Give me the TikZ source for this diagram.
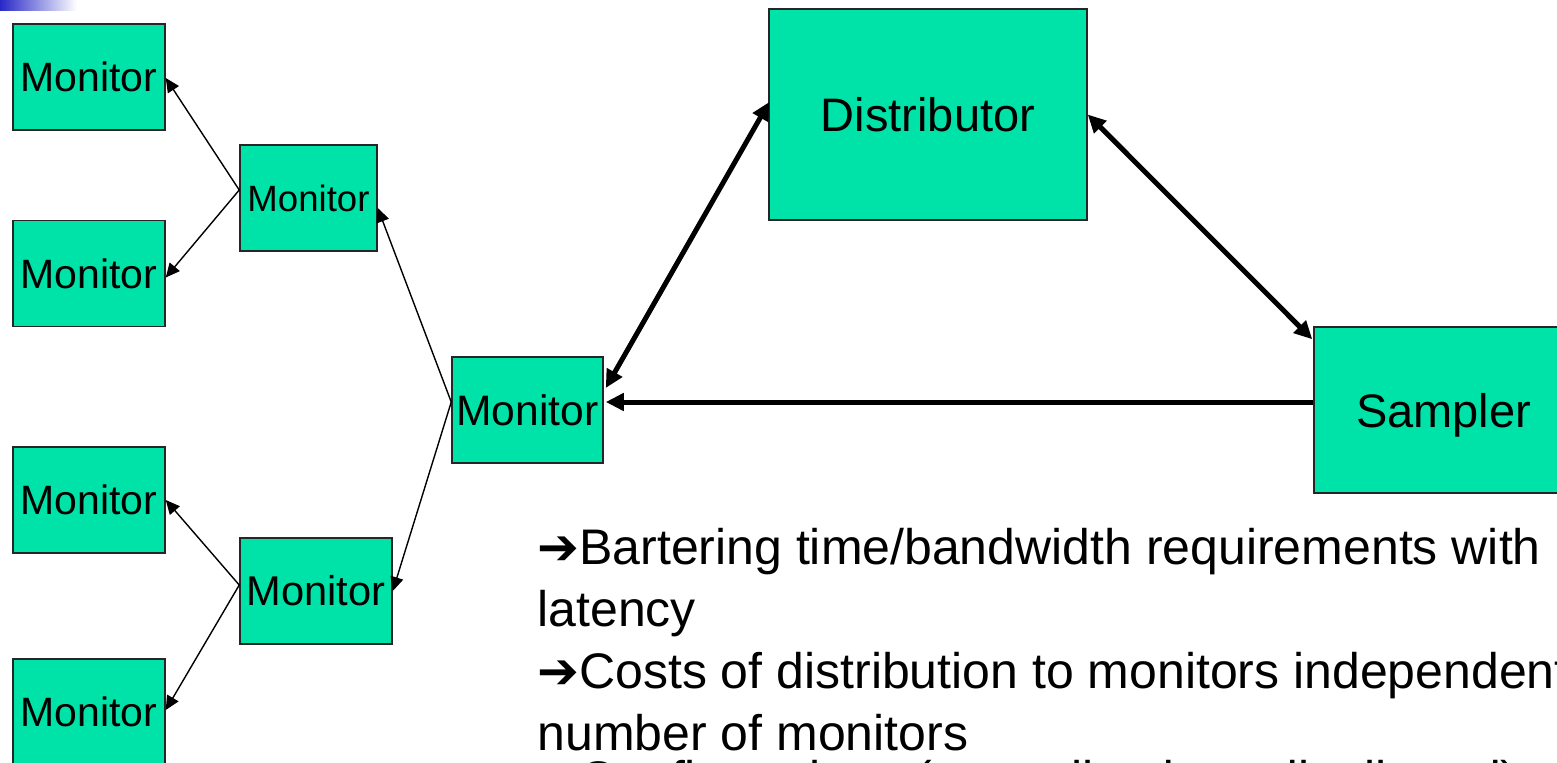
\documentclass[tikz,border=0pt]{standalone}
\usepackage{fontspec}
\setmainfont{Liberation Sans}
\newfontfamily\dejavu{DejaVu Sans}
\usetikzlibrary{arrows.meta,calc}
\definecolor{boxgreen}{RGB}{0,227,168}
\definecolor{barblue}{RGB}{40,40,200}
\begin{document}
\begin{tikzpicture}[x=0.5pt,y=-0.5pt,
  box/.style={draw=black!85, line width=0.75pt, fill=boxgreen, inner sep=0pt, font=\fontsize{20.5}{24}\selectfont},
  mon/.style={box, minimum width=76pt, minimum height=53pt},
  thinarrow/.style={line width=0.7pt, -{Triangle[length=7pt,width=6.5pt]}},
  thickarrow/.style={line width=2.5pt, {Triangle[length=9pt,width=8.5pt]}-{Triangle[length=9pt,width=8.5pt]}},
  onearrow/.style={line width=2.5pt, -{Triangle[length=9pt,width=8.5pt]}},
  txt/.style={anchor=base west, inner sep=0pt, font=\fontsize{25}{28}\selectfont}]
\useasboundingbox (0,0) rectangle (1557,762);
\clip (0,0) rectangle (1557,762);
\fill[white] (0,0) rectangle (1557,762);
\shade[left color=barblue, right color=white] (0,0) rectangle (77,10);

\node[mon] (l1) at (89,77) {Monitor};
\node[mon] (l2) at (89,273.5) {Monitor};
\node[mon] (l3) at (89,500) {Monitor};
\node[mon] (l4) at (89,712) {Monitor};
\node[box, minimum width=68.5pt, minimum height=53pt, font=\fontsize{18.3}{22}\selectfont] (mt) at (308.5,198) {Monitor};
\node[mon, font=\fontsize{20.8}{24}\selectfont] (mb) at (316,591) {Monitor};
\node[box, minimum width=75.5pt, minimum height=53pt, font=\fontsize{21.3}{24}\selectfont] (mc) at (527.5,410) {Monitor};
\node[box, minimum width=159pt, minimum height=105.5pt, font=\fontsize{23.5}{28}\selectfont] (dist) at (928,114.5) {Distributor};
\node[box, minimum width=129.5pt, minimum height=83pt, text depth=0pt, font=\fontsize{23.5}{28}\selectfont] (samp) at (1443.5,410) {Sampler};

\draw[thinarrow] ($(mt.west)+(0,-8)$) -- ($(l1.east)+(0,1)$);
\draw[thinarrow] ($(mt.west)+(0,-8)$) -- ($(l2.east)+(0,4)$);
\draw[thinarrow] ($(mb.west)+(0,-6)$) -- (l3.east);
\draw[thinarrow] ($(mb.west)+(0,-6)$) -- ($(l4.east)+(0,-2)$);
\draw[thinarrow] ($(mc.west)+(0,-8)$) -- ($(mt.east)+(0,10)$);
\draw[thinarrow] ($(mc.west)+(0,-8)$) -- (mb.east);

\draw[thickarrow] ($(mc.east)+(2,-22)$) -- ($(dist.west)+(1,-12.5)$);
\draw[thickarrow] (dist.east) -- ($(samp.north west)+(-1,13)$);
\draw[onearrow] ($(samp.west)+(0,-8)$) -- ($(mc.east)+(2,-8)$);

\node[txt] (t1) at (537,564) {{\dejavu ➔}Bartering time/bandwidth requirements with};
\node[txt] (t2) at (537,626) {latency};
\node[txt] (t3) at (537,688) {{\dejavu ➔}Costs of distribution to monitors independent of};
\node[txt] (t4) at (537,750) {number of monitors};
\node[txt] (t5) at (537,796) {{\dejavu ➔}Configurations (centralized vs. distributed)};
\end{tikzpicture}
\end{document}
